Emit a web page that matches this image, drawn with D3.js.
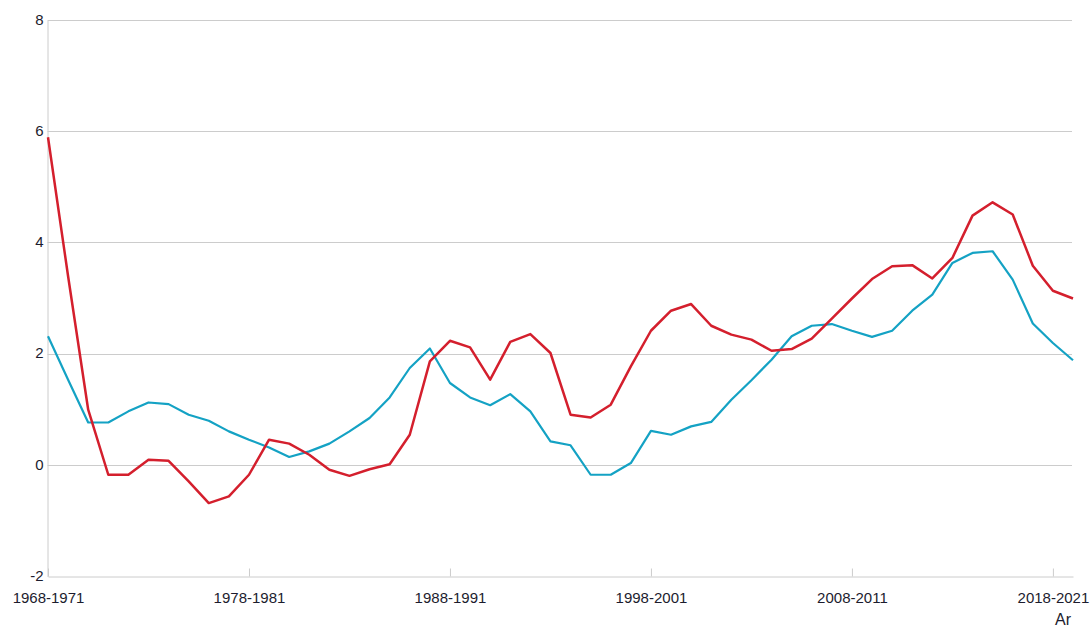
<!DOCTYPE html>
<html>
<head>
<meta charset="utf-8">
<script src="https://cdn.jsdelivr.net/npm/d3@7"></script>
<style>
  body { margin: 0; background: #fff; }
  text { font-family: "Liberation Sans", Arial, sans-serif; fill: #1c1c2e; }
</style>
</head>
<body>
<div class="chart"></div>
<script>
var svgWidth = 1091;
var svgHeight = 629;

var margin = { top: 20.5, right: 19, bottom: 52, left: 47.5 };
var width = 1072 - margin.left;
var height = 576.5 - margin.top;

// categories: 4-year periods 1968-1971 ... 2019-2022
var startYears = d3.range(1968, 2020);
var periods = startYears.map(y => y + '-' + (y + 3));

var tickPeriods = ['1968-1971', '1978-1981', '1988-1991', '1998-2001', '2008-2011', '2018-2021'];
var yTicks = [-2, 0, 2, 4, 6, 8];

var redValues = [5.9, 3.4, 1.0, -0.17, -0.17, 0.1, 0.08, -0.29, -0.68, -0.56,
  -0.17, 0.46, 0.39, 0.19, -0.08, -0.19, -0.07, 0.02, 0.55, 1.87,
  2.24, 2.12, 1.54, 2.22, 2.36, 2.02, 0.91, 0.86, 1.09, 1.78,
  2.42, 2.78, 2.9, 2.51, 2.35, 2.26, 2.06, 2.09, 2.28, 2.64,
  3.0, 3.35, 3.58, 3.6, 3.36, 3.73, 4.49, 4.73, 4.51, 3.59,
  3.14, 3.0];

var blueValues = [2.32, 1.54, 0.77, 0.77, 0.97, 1.13, 1.1, 0.91, 0.8, 0.61,
  0.46, 0.32, 0.15, 0.25, 0.39, 0.61, 0.85, 1.22, 1.75, 2.1,
  1.48, 1.22, 1.08, 1.28, 0.97, 0.43, 0.36, -0.17, -0.17, 0.04,
  0.62, 0.55, 0.7, 0.78, 1.18, 1.53, 1.9, 2.32, 2.51, 2.54,
  2.42, 2.31, 2.42, 2.78, 3.07, 3.64, 3.82, 3.85, 3.34, 2.55,
  2.2, 1.89];

var svg = d3.select('.chart')
  .append('svg')
  .attr('width', svgWidth)
  .attr('height', svgHeight);

var chartGroup = svg.append('g')
  .attr('transform', `translate(${margin.left}, ${margin.top})`);

var xScale = d3.scalePoint()
  .domain(periods)
  .range([0.5, width + 1]);

var yScale = d3.scaleLinear()
  .domain([-2, 8])
  .range([height, 0]);

// gridlines
chartGroup.append('g')
  .selectAll('line')
  .data(yTicks.filter(d => d > -2))
  .enter()
  .append('line')
  .attr('x1', 0)
  .attr('x2', width)
  .attr('y1', d => Math.round(yScale(d)))
  .attr('y2', d => Math.round(yScale(d)))
  .attr('stroke', '#cccccc')
  .attr('stroke-width', 1);

// y axis (plain hyphen for negatives, like the original)
var leftAxis = d3.axisLeft(yScale)
  .tickValues(yTicks)
  .tickFormat(d => String(d))
  .tickSize(0)
  .tickPadding(4);

var yAxisG = chartGroup.append('g').call(leftAxis);
yAxisG.select('.domain').attr('stroke', '#cccccc');
yAxisG.selectAll('text')
  .attr('font-size', 15)
  .attr('dy', '0.25em')
  .style('fill', '#1c1c2e');

// x axis
var bottomAxis = d3.axisBottom(xScale)
  .tickValues(tickPeriods)
  .tickSize(-8)
  .tickPadding(16)
  .tickSizeOuter(0);

var xAxisG = chartGroup.append('g')
  .attr('transform', `translate(0, ${height})`)
  .call(bottomAxis);
xAxisG.select('.domain').attr('stroke', '#cccccc');
xAxisG.selectAll('line').attr('stroke', '#cccccc');
xAxisG.selectAll('text')
  .attr('font-size', 15)
  .style('fill', '#1c1c2e');

var line = d3.line()
  .x((d, i) => xScale(periods[i]))
  .y(d => yScale(d));

chartGroup.append('path')
  .datum(blueValues)
  .attr('fill', 'none')
  .attr('stroke', '#14a2c4')
  .attr('stroke-width', 2.2)
  .attr('stroke-linejoin', 'round')
  .attr('d', line);

chartGroup.append('path')
  .datum(redValues)
  .attr('fill', 'none')
  .attr('stroke', '#d41f2d')
  .attr('stroke-width', 2.5)
  .attr('stroke-linejoin', 'round')
  .attr('d', line);

// axis title
svg.append('text')
  .attr('x', 1071)
  .attr('y', 625)
  .attr('text-anchor', 'end')
  .attr('font-size', 16)
  .text('Ar');
</script>
</body>
</html>
